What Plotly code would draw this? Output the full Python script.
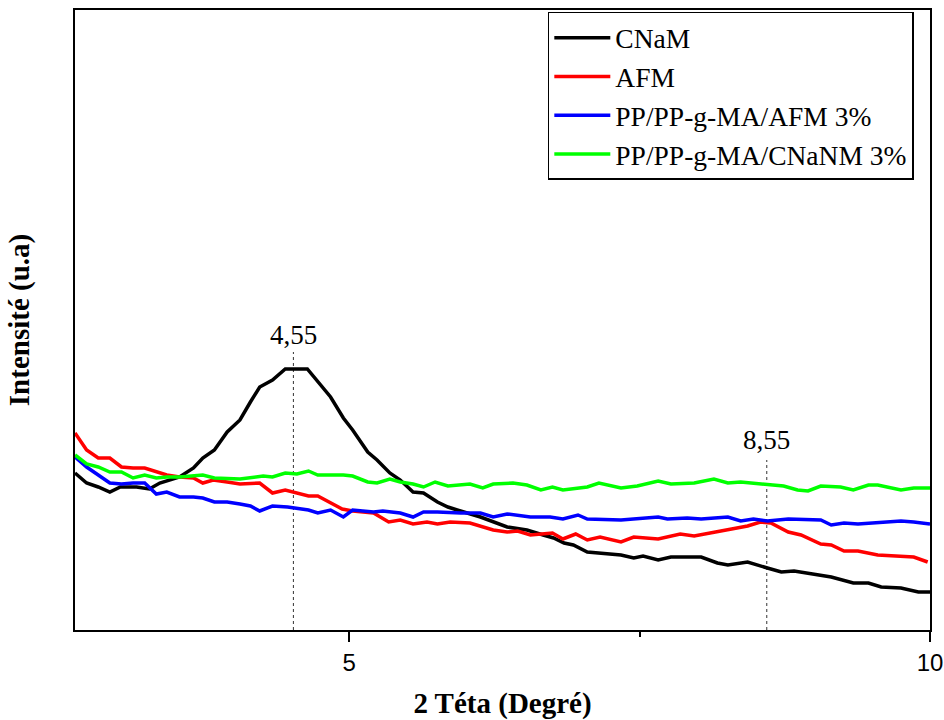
import plotly.graph_objects as go

# ---- data (2θ in degrees, intensity in arbitrary units) ----
cnam_x = [2.64, 2.74, 2.84, 2.94, 3.03, 3.17, 3.28, 3.37, 3.54, 3.66, 3.74, 3.84, 3.95, 4.06, 4.15, 4.23,
          4.34, 4.45, 4.64, 4.72, 4.84, 4.95, 5.03, 5.16, 5.24, 5.35, 5.44, 5.55, 5.64, 5.76, 5.85, 5.93,
          6.13, 6.36, 6.53, 6.67, 6.76, 6.85, 6.93, 7.05, 7.16, 7.34, 7.45, 7.53, 7.66, 7.77, 8.03, 8.17,
          8.26, 8.43, 8.60, 8.72, 8.83, 8.97, 9.15, 9.34, 9.47, 9.58, 9.75, 9.90, 10.0]
cnam_y = [157, 147, 143, 138, 143, 143, 141, 147, 153, 162, 172, 180, 198, 210, 228, 243,
          250, 261, 261, 250, 233, 212, 200, 178, 170, 157, 150, 138, 137, 128, 123, 120,
          113, 103, 100, 95, 92, 87, 85, 78, 77, 75, 72, 74, 70, 73, 73, 67,
          65, 68, 62, 58, 59, 56, 53, 47, 47, 43, 42, 38, 38]

afm_x = [2.64, 2.74, 2.84, 2.94, 3.04, 3.14, 3.24, 3.34, 3.43, 3.54, 3.66, 3.74, 3.83, 3.95, 4.06, 4.23,
         4.34, 4.45, 4.55, 4.65, 4.73, 4.84, 4.94, 5.03, 5.21, 5.34, 5.44, 5.55, 5.67, 5.76, 5.87, 6.04,
         6.24, 6.36, 6.45, 6.56, 6.75, 6.84, 6.95, 7.05, 7.16, 7.34, 7.45, 7.66, 7.85, 7.97, 8.14, 8.31,
         8.43, 8.54, 8.63, 8.78, 8.89, 9.06, 9.15, 9.26, 9.38, 9.55, 9.69, 9.86, 9.98]
afm_y = [197, 180, 172, 172, 163, 162, 162, 158, 155, 153, 152, 147, 150, 148, 146, 147,
         137, 140, 137, 134, 134, 127, 121, 119, 117, 108, 110, 106, 108, 106, 108, 107,
         100, 98, 99, 95, 97, 91, 96, 90, 93, 88, 93, 91, 96, 94, 98, 102,
         104, 108, 107, 98, 95, 86, 85, 79, 79, 75, 74, 73, 68]

ppafm_x = [2.64, 2.74, 2.84, 2.94, 3.04, 3.14, 3.24, 3.34, 3.43, 3.54, 3.66, 3.74, 3.84, 3.95, 4.06, 4.15,
           4.23, 4.34, 4.47, 4.55, 4.65, 4.73, 4.84, 4.95, 5.03, 5.21, 5.29, 5.44, 5.55, 5.64, 5.76, 5.96,
           6.13, 6.24, 6.36, 6.56, 6.73, 6.84, 6.97, 7.05, 7.34, 7.66, 7.74, 7.91, 8.03, 8.26, 8.37, 8.48,
           8.60, 8.78, 9.06, 9.15, 9.26, 9.38, 9.55, 9.75, 9.86, 10.0]
ppafm_y = [173, 163, 155, 147, 146, 147, 147, 136, 138, 133, 133, 132, 128, 128, 126, 124,
           119, 124, 123, 122, 120, 117, 120, 113, 120, 118, 119, 117, 113, 118, 118, 117,
           117, 113, 116, 113, 113, 111, 115, 111, 110, 113, 111, 112, 111, 113, 109, 111,
           109, 111, 110, 105, 107, 106, 107, 109, 108, 106]

ppcnam_x = [2.64, 2.74, 2.84, 2.94, 3.04, 3.14, 3.24, 3.34, 3.43, 3.54, 3.74, 3.84, 4.06, 4.15, 4.26, 4.34,
            4.45, 4.55, 4.65, 4.73, 4.95, 5.03, 5.16, 5.24, 5.35, 5.44, 5.55, 5.64, 5.74, 5.85, 6.04, 6.15,
            6.24, 6.41, 6.53, 6.65, 6.75, 6.84, 7.05, 7.15, 7.34, 7.48, 7.66, 7.77, 7.97, 8.14, 8.26, 8.37,
            8.60, 8.74, 8.86, 8.95, 9.06, 9.23, 9.34, 9.47, 9.55, 9.64, 9.75, 9.86, 10.0]
ppcnam_y = [175, 166, 163, 158, 158, 152, 155, 152, 153, 153, 155, 152, 151, 152, 154, 153,
            157, 156, 159, 155, 155, 154, 148, 147, 151, 148, 146, 143, 148, 144, 146, 142,
            146, 147, 145, 140, 143, 140, 143, 147, 142, 144, 149, 146, 147, 151, 147, 148,
            146, 144, 140, 139, 144, 143, 140, 145, 145, 143, 140, 142, 142]

series_names = ["CNaM", "AFM", "PP/PP-g-MA/AFM 3%", "PP/PP-g-MA/CNaNM 3%"]
series_colors = ["#000000", "#ff0000", "#0000ff", "#00ff00"]

peak_labels = ["4,55", "8,55"]
peak_pos = [4.52, 8.595]      # marker line positions as drawn
peak_line_top = [278, 170]    # top of dotted line (intensity units)
peak_text_y = [295, 190]

x_tickvals = [5, 10]
x_ticktext = ["5", "10"]

fig = go.Figure()
for xs, ys, name, col in zip([cnam_x, afm_x, ppafm_x, ppcnam_x],
                             [cnam_y, afm_y, ppafm_y, ppcnam_y],
                             series_names, series_colors):
    fig.add_trace(go.Scatter(x=xs, y=ys, mode="lines", name=name,
                             line=dict(color=col, width=3.5)))

for px, top, ty, lab in zip(peak_pos, peak_line_top, peak_text_y, peak_labels):
    fig.add_shape(type="line", xref="x", yref="y", x0=px, x1=px, y0=0, y1=top,
                  line=dict(color="#333333", width=1, dash="3px,3px"), layer="below")
    fig.add_annotation(x=px, y=ty, xref="x", yref="y", text=lab, showarrow=False,
                       font=dict(family="Liberation Serif", size=27, color="#000000"))

fig.update_layout(
    width=944, height=720,
    margin=dict(l=75, r=14, t=10, b=90, autoexpand=False),
    paper_bgcolor="white", plot_bgcolor="white",
    showlegend=True,
    legend=dict(x=0.553, y=0.997, xanchor="left", yanchor="top",
                bgcolor="white", bordercolor="#000000", borderwidth=1.5,
                font=dict(family="Liberation Serif", size=27.5, color="#000000"),
                tracegroupgap=0, itemwidth=56),
    xaxis=dict(range=[2.64, 10], tickvals=x_tickvals, ticktext=x_ticktext,
               ticks="outside", ticklen=10, tickwidth=2, tickcolor="#000000",
               minor=dict(tickvals=[7.5], ticks="outside", ticklen=5, tickwidth=2, tickcolor="#000000"),
               showgrid=False, zeroline=False, automargin=False,
               showline=True, linecolor="#000000", linewidth=2, mirror=True,
               ticklabelstandoff=0,
               tickfont=dict(family="Liberation Sans", size=24, color="#000000"),
               title=dict(text="<b>2 Téta (Degré)</b>", standoff=28,
                          font=dict(family="Liberation Serif", size=29, color="#000000"))),
    yaxis=dict(range=[0, 620], showticklabels=False, ticks="",
               showgrid=False, zeroline=False, automargin=False,
               showline=True, linecolor="#000000", linewidth=2, mirror=True,
               title=dict(text="<b>Intensité (u.a)</b>", standoff=35,
                          font=dict(family="Liberation Serif", size=29, color="#000000"))),
)

fig.write_html("out.html", config={"displayModeBar": False},
               post_script="document.body.style.margin='0px';document.body.style.overflow='hidden';")
